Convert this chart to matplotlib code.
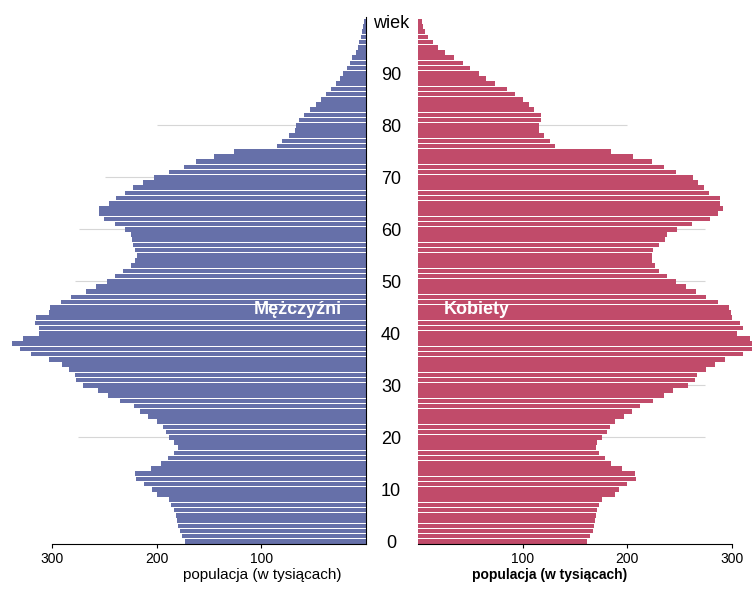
import matplotlib
matplotlib.use("Agg")
import matplotlib.pyplot as plt

plt.rcParams['font.family'] = ['Liberation Sans', 'DejaVu Sans']

# Population by single year of age (thousands), ages 0..100

ages = list(range(0, 101))

men = [173, 176, 178, 180, 181, 182, 184, 186, 188, 200,
       205, 212, 220, 221, 206, 196, 189, 184, 180, 184,
       188, 191, 194, 200, 208, 216, 222, 235, 247, 256,
       271, 277, 278, 284, 291, 303, 320, 331, 339, 328,
       313, 313, 317, 316, 303, 302, 292, 282, 268, 258,
       248, 240, 232, 225, 221, 219, 221, 223, 224, 225,
       230, 240, 251, 255, 255, 246, 239, 230, 223, 213,
       203, 188, 174, 163, 145, 126, 85, 80, 74, 68,
       67, 64, 59, 54, 48, 43, 38, 33, 29, 25,
       22, 18, 15, 13, 10, 8, 6.5, 5, 4, 3,
       2]

women = [162, 165, 167, 168, 169, 170, 171, 173, 176, 188,
         192, 200, 209, 208, 195, 185, 179, 173, 170, 171,
         176, 181, 184, 188, 197, 205, 212, 225, 235, 244,
         258, 265, 267, 276, 284, 294, 311, 320, 320, 318,
         305, 311, 308, 300, 299, 298, 287, 276, 266, 256,
         247, 238, 231, 227, 224, 224, 225, 231, 236, 238,
         248, 262, 279, 287, 292, 289, 289, 278, 274, 268,
         263, 247, 235, 224, 206, 185, 131, 126, 121, 116,
         116, 118, 118, 111, 106, 100, 93, 85, 74, 65,
         58, 50, 43, 34, 26, 19, 14, 10, 7, 4.5,
         3.5]

age_ticks = [0, 10, 20, 30, 40, 50, 60, 70, 80, 90, 100]
age_labels = ["0", "10", "20", "30", "40", "50", "60", "70", "80", "90", "wiek"]

pop_ticks = [100, 200, 300]
pop_labels = ["100", "200", "300"]

# light guide lines (age, how far they reach)
grid_men_ages = [20, 50, 60, 70, 80]
grid_men_len = [275, 278, 274, 250, 200]
grid_women_ages = [20, 30, 50, 60, 80]
grid_women_len = [275, 275, 275, 275, 200]

blue = "#6670A9"
red = "#C14B6A"
grid_col = "#D6D6D6"

fig = plt.figure(figsize=(7.53, 5.9), dpi=100)

W, H = 753, 590
bottom = (H - 544) / H
height = (544 - 15) / H
ax1 = fig.add_axes([0, bottom, 366 / W, height])
ax2 = fig.add_axes([418 / W, bottom, (753 - 418) / W, height])

# Men on the left

ax1.hlines(grid_men_ages, 0, grid_men_len, color=grid_col, lw=0.8, zorder=0)
ax1.barh(ages, men, height=0.88, color=blue, zorder=2)
ax1.set_xlim(350, 0)
ax1.set_ylim(-0.5, 101.2)
ax1.set_yticks([])
ax1.set_xticks(pop_ticks)
ax1.set_xticklabels(pop_labels, fontsize=10)
ax1.tick_params(axis='x', length=3, pad=3)
for s in ['top', 'left']:
    ax1.spines[s].set_visible(False)
ax1.spines['bottom'].set_bounds(0, 300)
ax1.spines['right'].set_bounds(-0.5, 100.8)
ax1.set_xlabel("populacja (w tysiącach)", fontsize=11)
ax1.xaxis.set_label_coords(0.716, -0.045)
ax1.text(23, 44.6, "Mężczyźni", color="white", fontsize=13,
         fontweight="bold", ha="right", va="center", zorder=3)

# Women on the right

ax2.hlines(grid_women_ages, 0, grid_women_len, color=grid_col, lw=0.8, zorder=0)
ax2.barh(ages, women, height=0.88, color=red, zorder=2)
ax2.set_xlim(0, 320.5)
ax2.set_ylim(-0.5, 101.2)
ax2.set_xticks(pop_ticks)
ax2.set_xticklabels(pop_labels, fontsize=10)
ax2.tick_params(axis='x', length=3, pad=3)
ax2.set_yticks(age_ticks)
ax2.set_yticklabels(age_labels, fontsize=13, ha="center")
ax2.tick_params(axis='y', length=0, pad=19.4)
for s in ['top', 'left', 'right']:
    ax2.spines[s].set_visible(False)
ax2.spines['bottom'].set_bounds(0, 300)
ax2.set_xlabel("populacja (w tysiącach)", fontsize=10, fontweight="bold")
ax2.xaxis.set_label_coords(0.394, -0.045)
ax2.text(25, 44.6, "Kobiety", color="white", fontsize=13,
         fontweight="bold", ha="left", va="center", zorder=3)

fig.savefig("out.png", dpi=100)
